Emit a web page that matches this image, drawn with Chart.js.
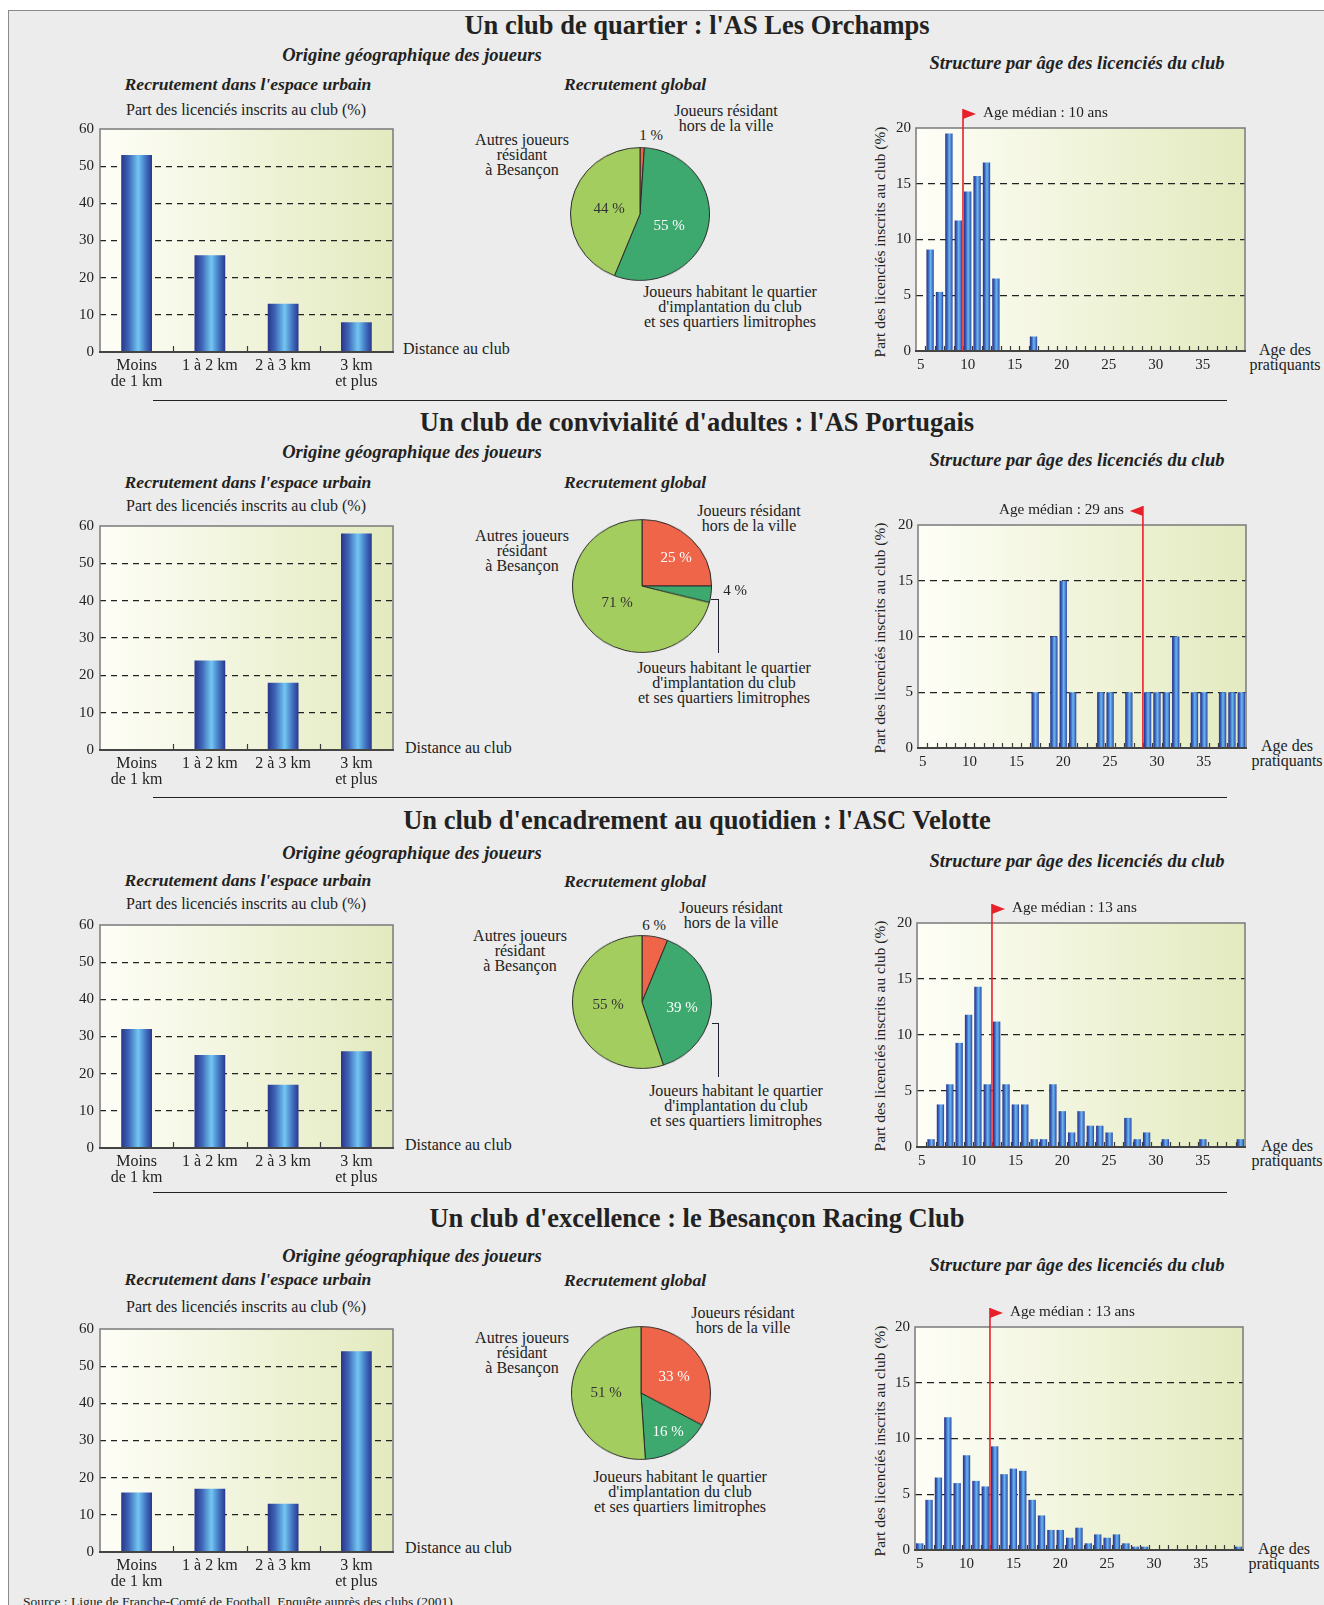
<!DOCTYPE html>
<html>
<head>
<meta charset="utf-8">
<script src="https://cdn.jsdelivr.net/npm/chart.js@4.4.0/dist/chart.umd.min.js"></script>
<style>
  body { margin: 0; background: #fff; }
  #page { position: relative; width: 1324px; height: 1605px; overflow: hidden;
          font-family: "Liberation Serif", "Times New Roman", serif; color: #222; }
  #frame { position: absolute; left: 8px; top: 10px; width: 1400px; height: 1700px;
           background: #ebeceb; border-left: 1.5px solid #8a8a8a; border-top: 1.5px solid #8a8a8a; }
  .t { position: absolute; white-space: nowrap; transform: translate(-50%, -50%); text-align: center; }
  .l { position: absolute; white-space: nowrap; transform: translate(0, -50%); }
  .h1 { font-weight: bold; font-size: 26.5px; }
  .h2 { font-weight: bold; font-style: italic; font-size: 18.5px; }
  .h3 { font-weight: bold; font-style: italic; font-size: 17.6px; }
  .h4 { font-weight: bold; font-style: italic; font-size: 18.5px; }
  .s { font-size: 16px; }
  .pl { font-size: 16px; line-height: 15px; }
  .pc { font-size: 15px; line-height: 15px; }
  .rot { position: absolute; white-space: nowrap; font-size: 15.4px; transform: translate(-50%, -50%) rotate(-90deg); }
  .sep { position: absolute; left: 153px; width: 1074px; height: 0; border-top: 1.5px solid #222; }
  .lead { position: absolute; border-color: #223; border-style: solid; border-width: 0; }
  canvas { position: absolute; }
</style>
</head>
<body>
<div id="page">
  <div id="frame"></div>

  <!-- row 1 -->
  <div class="t h1" style="left:697px;top:25px">Un club de quartier : l'AS Les Orchamps</div>
  <div class="t h2" style="left:412px;top:55px">Origine géographique des joueurs</div>
  <div class="t h3" style="left:248px;top:84px">Recrutement dans l'espace urbain</div>
  <div class="t h3" style="left:635px;top:84px">Recrutement global</div>
  <div class="t h4" style="left:1077px;top:63px">Structure par âge des licenciés du club</div>
  <div class="t s" style="left:246px;top:110px">Part des licenciés inscrits au club (%)</div>
  <div class="t pl" style="left:522px;top:154px">Autres joueurs<br>résidant<br>à Besançon</div>
  <div class="t pl" style="left:726px;top:118px">Joueurs résidant<br>hors de la ville</div>
  <div class="t pl" style="left:730px;top:306px">Joueurs habitant le quartier<br>d'implantation du club<br>et ses quartiers limitrophes</div>
  <div class="l pl" style="left:403px;top:348px">Distance au club</div>
  <div class="t pl" style="left:1285px;top:357px">Age des<br>pratiquants</div>
  <div class="rot" style="left:880px;top:242px">Part des licenciés inscrits au club (%)</div>
  <div class="sep" style="top:400px"></div>

  <!-- row 2 -->
  <div class="t h1" style="left:697px;top:422px">Un club de convivialité d'adultes : l'AS Portugais</div>
  <div class="t h2" style="left:412px;top:452px">Origine géographique des joueurs</div>
  <div class="t h3" style="left:248px;top:482px">Recrutement dans l'espace urbain</div>
  <div class="t h3" style="left:635px;top:482px">Recrutement global</div>
  <div class="t h4" style="left:1077px;top:460px">Structure par âge des licenciés du club</div>
  <div class="t s" style="left:246px;top:506px">Part des licenciés inscrits au club (%)</div>
  <div class="t pl" style="left:522px;top:550px">Autres joueurs<br>résidant<br>à Besançon</div>
  <div class="t pl" style="left:749px;top:518px">Joueurs résidant<br>hors de la ville</div>
  <div class="t pl" style="left:724px;top:682px">Joueurs habitant le quartier<br>d'implantation du club<br>et ses quartiers limitrophes</div>
  <div class="lead" style="left:711px;top:599px;width:8px;border-top-width:1.3px"></div>
  <div class="lead" style="left:718px;top:599px;height:54px;border-left-width:1.3px"></div>
  <div class="l pl" style="left:405px;top:747px">Distance au club</div>
  <div class="t pl" style="left:1287px;top:753px">Age des<br>pratiquants</div>
  <div class="rot" style="left:880px;top:638px">Part des licenciés inscrits au club (%)</div>
  <div class="sep" style="top:797px"></div>

  <!-- row 3 -->
  <div class="t h1" style="left:697px;top:820px">Un club d'encadrement au quotidien : l'ASC Velotte</div>
  <div class="t h2" style="left:412px;top:853px">Origine géographique des joueurs</div>
  <div class="t h3" style="left:248px;top:880px">Recrutement dans l'espace urbain</div>
  <div class="t h3" style="left:635px;top:881px">Recrutement global</div>
  <div class="t h4" style="left:1077px;top:861px">Structure par âge des licenciés du club</div>
  <div class="t s" style="left:246px;top:904px">Part des licenciés inscrits au club (%)</div>
  <div class="t pl" style="left:520px;top:950px">Autres joueurs<br>résidant<br>à Besançon</div>
  <div class="t pl" style="left:731px;top:915px">Joueurs résidant<br>hors de la ville</div>
  <div class="t pl" style="left:736px;top:1105px">Joueurs habitant le quartier<br>d'implantation du club<br>et ses quartiers limitrophes</div>
  <div class="lead" style="left:712px;top:1023px;width:7px;border-top-width:1.3px"></div>
  <div class="lead" style="left:718px;top:1023px;height:54px;border-left-width:1.3px"></div>
  <div class="l pl" style="left:405px;top:1144px">Distance au club</div>
  <div class="t pl" style="left:1287px;top:1153px">Age des<br>pratiquants</div>
  <div class="rot" style="left:880px;top:1036px">Part des licenciés inscrits au club (%)</div>
  <div class="sep" style="top:1192px"></div>

  <!-- row 4 -->
  <div class="t h1" style="left:697px;top:1218px">Un club d'excellence : le Besançon Racing Club</div>
  <div class="t h2" style="left:412px;top:1256px">Origine géographique des joueurs</div>
  <div class="t h3" style="left:248px;top:1279px">Recrutement dans l'espace urbain</div>
  <div class="t h3" style="left:635px;top:1280px">Recrutement global</div>
  <div class="t h4" style="left:1077px;top:1265px">Structure par âge des licenciés du club</div>
  <div class="t s" style="left:246px;top:1307px">Part des licenciés inscrits au club (%)</div>
  <div class="t pl" style="left:522px;top:1352px">Autres joueurs<br>résidant<br>à Besançon</div>
  <div class="t pl" style="left:743px;top:1320px">Joueurs résidant<br>hors de la ville</div>
  <div class="t pl" style="left:680px;top:1491px">Joueurs habitant le quartier<br>d'implantation du club<br>et ses quartiers limitrophes</div>
  <div class="l pl" style="left:405px;top:1547px">Distance au club</div>
  <div class="t pl" style="left:1284px;top:1556px">Age des<br>pratiquants</div>
  <div class="rot" style="left:880px;top:1441px">Part des licenciés inscrits au club (%)</div>

  <div class="l" style="left:23px;top:1602px;font-size:13.5px">Source : Ligue de Franche-Comté de Football, Enquête auprès des clubs (2001)</div>
</div>

<script>
// ---- data ----
const distLabels = [['Moins', 'de 1 km'], ['1 à 2 km'], ['2 à 3 km'], ['3 km', 'et plus']];
const distTicks = [0, 10, 20, 30, 40, 50, 60];

const distOrchamps = [53, 26, 13, 8];
const distPortugais = [0, 24, 18, 58];
const distVelotte = [32, 25, 17, 26];
const distRacing = [16, 17, 13, 54];

const pieLabels = ['Joueurs résidant hors de la ville',
  "Joueurs habitant le quartier d'implantation du club et ses quartiers limitrophes",
  'Autres joueurs résidant à Besançon'];
const pieOrchamps = [1, 55, 44];
const piePortugais = [25, 4, 71];
const pieVelotte = [6, 39, 55];
const pieRacing = [33, 16, 51];

const ages = [5, 6, 7, 8, 9, 10, 11, 12, 13, 14, 15, 16, 17, 18, 19, 20, 21, 22,
  23, 24, 25, 26, 27, 28, 29, 30, 31, 32, 33, 34, 35, 36, 37, 38, 39];
const ageTicks = [5, 10, 15, 20, 25, 30, 35];
const shareTicks = [0, 5, 10, 15, 20];

//                  5    6    7     8     9    10    11    12    13   14   15   16   17   18   19   20   21   22   23   24   25   26   27   28   29   30   31   32   33   34   35   36   37   38   39
const ageOrchamps = [0, 9.1, 5.3, 19.5, 11.7, 14.3, 15.7, 16.9, 6.5, 0, 0, 0, 1.3, 0, 0, 0, 0, 0, 0, 0, 0, 0, 0, 0, 0, 0, 0, 0, 0, 0, 0, 0, 0, 0, 0];
const agePortugais = [0, 0, 0, 0, 0, 0, 0, 0, 0, 0, 0, 0, 5, 0, 10, 15, 5, 0, 0, 5, 5, 0, 5, 0, 5, 5, 5, 10, 0, 5, 5, 0, 5, 5, 5];
const ageVelotte = [0, 0.7, 3.8, 5.6, 9.3, 11.8, 14.3, 5.6, 11.2, 5.6, 3.8, 3.8, 0.7, 0.7, 5.6, 3.2, 1.3, 3.2, 1.9, 1.9, 1.3, 0, 2.6, 0.7, 1.3, 0, 0.7, 0, 0, 0, 0.7, 0, 0, 0, 0.7];
const ageRacing = [0.6, 4.5, 6.5, 11.9, 6.0, 8.5, 6.2, 5.7, 9.3, 6.8, 7.3, 7.1, 4.5, 3.1, 1.8, 1.8, 1.1, 2.0, 0.6, 1.4, 1.1, 1.4, 0.6, 0.3, 0.3, 0, 0, 0, 0, 0, 0, 0, 0, 0, 0.3];

const medianOrchamps = 10;
const medianPortugais = 29;
const medianVelotte = 13;
const medianRacing = 13;

// ---- styles ----
Chart.defaults.font.family = '"Liberation Serif", "Times New Roman", serif';
Chart.defaults.font.size = 15;
Chart.defaults.color = '#222';

const pieColors = ['#ef6549', '#3ea96f', '#a4cd5f'];
const barStops = [[0, '#29348a'], [0.25, '#3f68b8'], [0.55, '#72c7f2'], [0.78, '#4479c6'], [1, '#2a378d']];
const histStops = [[0, '#26318a'], [0.25, '#3a5cb8'], [0.55, '#68b8ee'], [0.8, '#4a7fd2'], [1, '#2c3e98']];

const rows = [
  { dist: distOrchamps, pie: pieOrchamps, age: ageOrchamps, median: medianOrchamps, dir: 1,
    barBox: [100, 126, 293, 226], pieC: [639.5, 214], histBox: [916, 128, 329, 223],
    pct: [[651, 135, '#222'], [669, 225, '#fff'], [609, 208, '#333']] },
  { dist: distPortugais, pie: piePortugais, age: agePortugais, median: medianPortugais, dir: -1,
    barBox: [100, 523, 293, 227], pieC: [642, 586], histBox: [918, 525, 328, 223],
    pct: [[676, 557, '#fff'], [735, 590, '#222'], [617, 602, '#333']] },
  { dist: distVelotte, pie: pieVelotte, age: ageVelotte, median: medianVelotte, dir: 1,
    barBox: [100, 922, 293, 226], pieC: [642, 1001.5], histBox: [917, 923, 328, 224],
    pct: [[654, 925, '#222'], [682, 1007, '#fff'], [608, 1004, '#333']] },
  { dist: distRacing, pie: pieRacing, age: ageRacing, median: medianRacing, dir: 1,
    barBox: [100, 1326, 293, 226], pieC: [641, 1393], histBox: [915, 1327, 328, 223],
    pct: [[674, 1376, '#fff'], [668, 1431, '#fff'], [606, 1392, '#333']] }
];

const page = document.getElementById('page');

function addCanvas(left, top, w, h) {
  const cv = document.createElement('canvas');
  cv.width = w; cv.height = h;
  cv.style.left = left + 'px'; cv.style.top = top + 'px';
  cv.style.width = w + 'px'; cv.style.height = h + 'px';
  page.appendChild(cv);
  return cv;
}

function addText(x, y, txt, cls, color) {
  const d = document.createElement('div');
  d.className = cls;
  d.style.left = x + 'px'; d.style.top = y + 'px';
  if (color) d.style.color = color;
  d.textContent = txt;
  page.appendChild(d);
  return d;
}

// gradient fill across each bar, built from the x scale
function barFill(pct, stops) {
  return (c) => {
    const chart = c.chart, x = chart.scales && chart.scales.x;
    if (!x || c.dataIndex === undefined) return stops[2][1];
    const step = x.getPixelForValue(1) - x.getPixelForValue(0);
    const cx = x.getPixelForValue(c.dataIndex);
    if (!isFinite(step) || !isFinite(cx) || step <= 0) return stops[2][1];
    const hw = step * pct / 2;
    const g = chart.ctx.createLinearGradient(cx - hw, 0, cx + hw, 0);
    stops.forEach(s => g.addColorStop(s[0], s[1]));
    return g;
  };
}

function gridColor(max) {
  return (c) => (c.tick && (c.tick.value === 0 || c.tick.value === max)) ? 'rgba(0,0,0,0)' : '#222';
}

// plot background, frame, small ticks between categories, optional median flag
function decor(opts) {
  return {
    id: 'decor',
    beforeDraw(chart) {
      const { ctx, chartArea: a } = chart;
      const g = ctx.createLinearGradient(a.left, 0, a.right, 0);
      g.addColorStop(0, '#fefef7');
      g.addColorStop(1, '#e3eabf');
      ctx.save();
      ctx.fillStyle = g;
      ctx.fillRect(a.left, a.top, a.right - a.left, a.bottom - a.top);
      ctx.restore();
    },
    afterDatasetsDraw(chart) {
      const { ctx, chartArea: a } = chart;
      const x = chart.scales.x;
      const n = chart.data.labels.length;
      ctx.save();
      ctx.strokeStyle = '#7a7a7a';
      ctx.lineWidth = 1.5;
      ctx.strokeRect(a.left, a.top, a.right - a.left, a.bottom - a.top);
      ctx.strokeStyle = '#3a3a3a';
      ctx.lineWidth = 1.2;
      ctx.beginPath();
      for (let i = 1; i < n; i++) {
        const px = Math.round(x.getPixelForValue(i - 0.5)) + 0.5;
        ctx.moveTo(px, a.bottom);
        ctx.lineTo(px, a.bottom - opts.tick);
      }
      ctx.stroke();
      ctx.strokeStyle = '#444';
      ctx.lineWidth = 2;
      ctx.beginPath();
      ctx.moveTo(a.left - 1, a.bottom);
      ctx.lineTo(a.right + 1, a.bottom);
      ctx.stroke();

      if (opts.median !== undefined) {
        const mx = x.getPixelForValue(ages.indexOf(opts.median) - 0.5);
        const top = a.top - 19;
        ctx.strokeStyle = '#e8202a';
        ctx.lineWidth = 1.6;
        ctx.beginPath();
        ctx.moveTo(mx, a.bottom);
        ctx.lineTo(mx, top);
        ctx.stroke();
        ctx.fillStyle = '#e8202a';
        ctx.beginPath();
        ctx.moveTo(mx, top);
        ctx.lineTo(mx + opts.dir * 13, top + 5);
        ctx.lineTo(mx, top + 10);
        ctx.closePath();
        ctx.fill();
        const lab = opts.label;
        const cvLeft = parseFloat(chart.canvas.style.left);
        const cvTop = parseFloat(chart.canvas.style.top);
        lab.style.top = (cvTop + a.top - 16) + 'px';
        if (opts.dir > 0) {
          lab.style.left = (cvLeft + mx + 20) + 'px';
          lab.style.transform = 'translate(0,-50%)';
        } else {
          lab.style.left = (cvLeft + mx - 19) + 'px';
          lab.style.transform = 'translate(-100%,-50%)';
        }
      }
      ctx.restore();
    }
  };
}

rows.forEach(r => {
  // ---- distance bar chart ----
  const [bl, bt, bw, bh] = r.barBox;
  const cvB = addCanvas(bl - 40, bt - 12, bw + 42, bh + 12 + 46);
  new Chart(cvB, {
    type: 'bar',
    data: {
      labels: distLabels,
      datasets: [{ data: r.dist, backgroundColor: barFill(0.42, barStops), borderWidth: 0,
                   barPercentage: 0.42, categoryPercentage: 1 }]
    },
    options: {
      responsive: false, animation: false, events: [],
      layout: { padding: { top: 12, right: 2, left: 0, bottom: 0 } },
      plugins: { legend: { display: false }, tooltip: { enabled: false } },
      scales: {
        x: {
          grid: { display: false, drawTicks: false }, border: { display: false },
          ticks: { maxRotation: 0, autoSkip: false, padding: 6, font: { size: 16, lineHeight: 1.0 } },
          afterFit: s => { s.height = 46; }
        },
        y: {
          min: distTicks[0], max: distTicks[distTicks.length - 1],
          afterBuildTicks: s => { s.ticks = distTicks.map(v => ({ value: v })); },
          ticks: { padding: 6 },
          grid: { drawTicks: false, color: gridColor(60), lineWidth: 1.2 },
          border: { display: false, dash: [6, 5] },
          afterFit: s => { s.width = 40; }
        }
      }
    },
    plugins: [decor({ tick: 6 })]
  });

  // ---- pie ----
  const [pcx, pcy] = r.pieC;
  const cvP = addCanvas(pcx - 70, pcy - 70, 140, 140);
  cvP.style.transform = 'scale(1, 0.955)';
  new Chart(cvP, {
    type: 'pie',
    data: {
      labels: pieLabels,
      datasets: [{ data: r.pie, backgroundColor: pieColors, borderColor: '#2a2a2a', borderWidth: 1 }]
    },
    options: {
      responsive: false, animation: false, events: [],
      layout: { padding: 0 },
      plugins: { legend: { display: false }, tooltip: { enabled: false } }
    }
  });
  r.pie.forEach((v, i) => {
    const p = r.pct[i];
    addText(p[0], p[1], v + ' %', 't pc', p[2]);
  });

  // ---- age histogram ----
  const [hl, ht, hw, hh] = r.histBox;
  const cvH = addCanvas(hl - 40, ht - 24, hw + 44, hh + 24 + 30);
  const medLabel = addText(0, 0, 'Age médian : ' + r.median + ' ans', 'l s');
  medLabel.style.fontSize = '15.2px';
  new Chart(cvH, {
    type: 'bar',
    data: {
      labels: ages,
      datasets: [{ data: r.age, backgroundColor: barFill(0.78, histStops), borderWidth: 0,
                   barPercentage: 0.78, categoryPercentage: 1 }]
    },
    options: {
      responsive: false, animation: false, events: [],
      layout: { padding: { top: 24, right: 4, left: 0, bottom: 0 } },
      plugins: { legend: { display: false }, tooltip: { enabled: false } },
      scales: {
        x: {
          grid: { display: false, drawTicks: false }, border: { display: false },
          ticks: { maxRotation: 0, autoSkip: false, padding: 5,
                   callback: (v, i) => ageTicks.includes(ages[i]) ? String(ages[i]) : '' },
          afterFit: s => { s.height = 30; }
        },
        y: {
          min: shareTicks[0], max: shareTicks[shareTicks.length - 1],
          afterBuildTicks: s => { s.ticks = shareTicks.map(v => ({ value: v })); },
          ticks: { padding: 5 },
          grid: { drawTicks: false, color: gridColor(20), lineWidth: 1.2 },
          border: { display: false, dash: [7, 5] },
          afterFit: s => { s.width = 40; }
        }
      }
    },
    plugins: [decor({ tick: 5, median: r.median, dir: r.dir, label: medLabel })]
  });
});
</script>
</body>
</html>
